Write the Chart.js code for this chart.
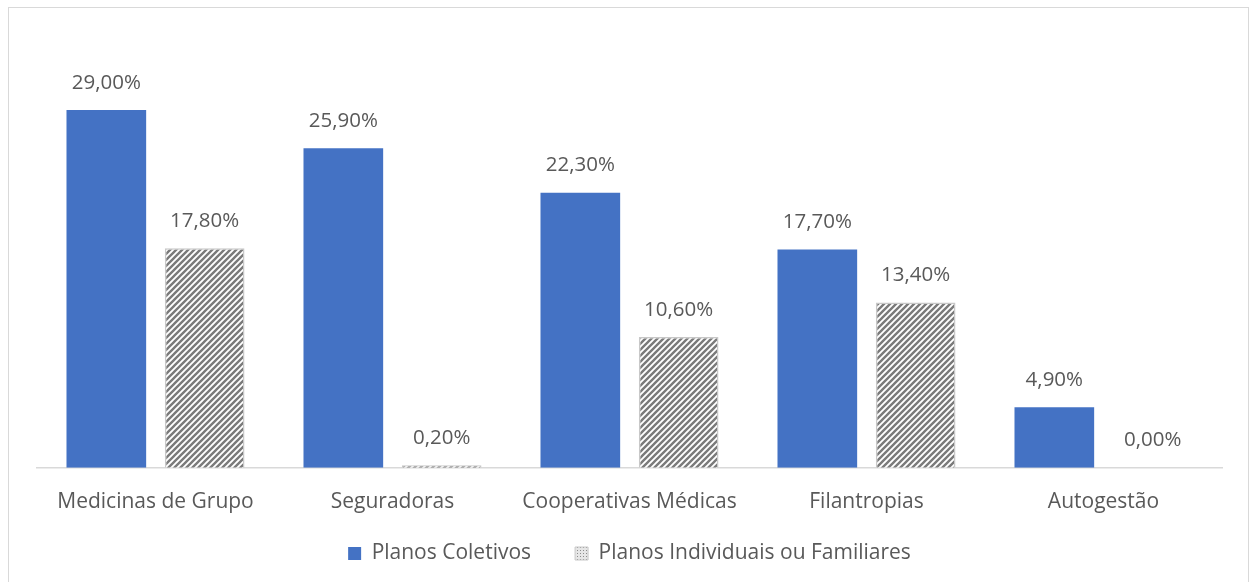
<!DOCTYPE html>
<html>
<head>
<meta charset="utf-8">
<script src="https://cdn.jsdelivr.net/npm/chart.js@4"></script>
<style>
  html, body { margin: 0; padding: 0; background: #fff; overflow: hidden; }
  #wrap { position: relative; width: 1256px; height: 582px; }
  #frame { position: absolute; left: 8px; top: 7px; width: 1241px; height: 600px; border: 1px solid #d9d9d9; box-sizing: border-box; }
  canvas { position: absolute; left: 0; top: 0; }
</style>
</head>
<body>
<div id="wrap">
  <div id="frame"></div>
  <canvas id="chart" width="1256" height="582"></canvas>
</div>
<script>
const categories = ["Medicinas de Grupo", "Seguradoras", "Cooperativas Médicas", "Filantropias", "Autogestão"];
const coletivos = [29.0, 25.9, 22.3, 17.7, 4.9];
const individuais = [17.8, 0.2, 10.6, 13.4, 0.0];
const seriesNames = ["Planos Coletivos", "Planos Individuais ou Familiares"];

const textColor = "#595959";
const fontFamily = "'Open Sans', 'Noto Sans', sans-serif";

// diagonal hatch used by the second series
function makeHatch() {
  const c = document.createElement("canvas");
  c.width = 6;
  c.height = 6;
  const g = c.getContext("2d");
  g.fillStyle = "#ffffff";
  g.fillRect(0, 0, 6, 6);
  g.strokeStyle = "#7a7a7a";
  g.lineWidth = 2.4;
  g.beginPath();
  g.moveTo(-1, 7); g.lineTo(7, -1);
  g.moveTo(-4, 4); g.lineTo(4, -4);
  g.moveTo(2, 10); g.lineTo(10, 2);
  g.stroke();
  return g.createPattern(c, "repeat");
}

// dotted box used in the legend
function makeDots() {
  const c = document.createElement("canvas");
  c.width = 3;
  c.height = 3;
  const g = c.getContext("2d");
  g.fillStyle = "#e6e6e6";
  g.fillRect(0, 0, 3, 3);
  g.fillStyle = "#8c8c8c";
  g.fillRect(1, 1, 1, 1);
  return g.createPattern(c, "repeat");
}

const hatch = makeHatch();
const dots = makeDots();

const valueLabels = {
  id: "valueLabels",
  afterDatasetsDraw(chart) {
    const ctx = chart.ctx;
    ctx.save();
    ctx.font = "20.5px " + fontFamily;
    ctx.fillStyle = textColor;
    ctx.textAlign = "center";
    ctx.textBaseline = "bottom";
    chart.data.datasets.forEach((ds, i) => {
      chart.getDatasetMeta(i).data.forEach((bar, j) => {
        const txt = ds.data[j].toFixed(2).replace(".", ",") + "%";
        ctx.fillText(txt, bar.x, bar.y - 17);
      });
    });
    ctx.restore();
  }
};

// legend padding is wide for the horizontal gap; pull its top back up afterwards
const legendShift = -30;
const moveLegend = {
  id: "moveLegend",
  afterLayout(chart) {
    chart.legend.top += legendShift;
  }
};

new Chart(document.getElementById("chart"), {
  type: "bar",
  data: {
    labels: categories,
    datasets: [
      {
        label: seriesNames[0],
        data: coletivos,
        backgroundColor: "#4472c4",
        borderWidth: 0
      },
      {
        label: seriesNames[1],
        data: individuais,
        backgroundColor: hatch,
        borderColor: "#c8c8c8",
        borderWidth: 1.5
      }
    ]
  },
  options: {
    responsive: false,
    animation: false,
    categoryPercentage: 0.83,
    barPercentage: 0.81,
    layout: { padding: { top: 36, left: 37, right: 34, bottom: 9 } },
    plugins: {
      tooltip: { enabled: false },
      legend: {
        position: "bottom",
        maxHeight: 44,
        labels: {
          color: textColor,
          font: { size: 21, family: fontFamily },
          boxWidth: 13,
          boxHeight: 13,
          padding: 44,
          generateLabels(chart) {
            return chart.data.datasets.map((ds, i) => ({
              text: ds.label,
              fillStyle: i === 0 ? "#4472c4" : dots,
              strokeStyle: i === 0 ? "#4472c4" : "#c8c8c8",
              lineWidth: i === 0 ? 0 : 1,
              fontColor: textColor,
              datasetIndex: i
            }));
          }
        }
      }
    },
    scales: {
      x: {
        grid: { display: false },
        border: { display: true, color: "#d9d9d9", width: 1.5 },
        ticks: {
          color: textColor,
          font: { size: 21, family: fontFamily },
          padding: 14,
          maxRotation: 0
        }
      },
      y: {
        display: false,
        min: 0,
        max: 35
      }
    }
  },
  plugins: [valueLabels, moveLegend]
});
</script>
</body>
</html>
